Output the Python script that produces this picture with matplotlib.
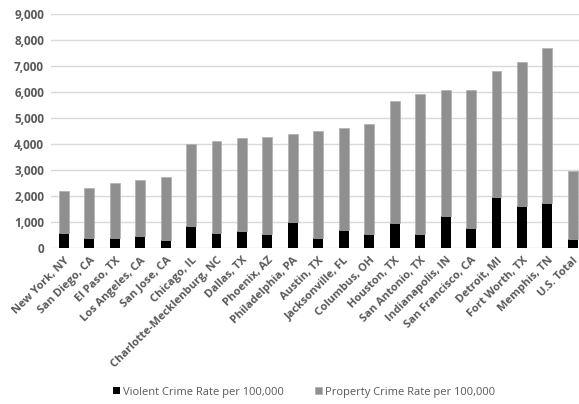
import matplotlib.pyplot as plt
from matplotlib.ticker import FuncFormatter

cities = ["New York, NY", "San Diego, CA", "El Paso, TX", "Los Angeles, CA", "San Jose, CA",
          "Chicago, IL", "Charlotte-Mecklenburg, NC", "Dallas, TX", "Phoenix, AZ",
          "Philadelphia, PA", "Austin, TX", "Jacksonville, FL", "Columbus, OH", "Houston, TX",
          "San Antonio, TX", "Indianapolis, IN", "San Francisco, CA", "Detroit, MI",
          "Fort Worth, TX", "Memphis, TN", "U.S. Total"]
violent = [580, 370, 370, 475, 320, 860, 580, 670, 550, 990, 400, 700, 540, 975,
           540, 1230, 780, 1960, 1600, 1740, 350]
total = [2180, 2310, 2500, 2600, 2730, 3990, 4120, 4220, 4280, 4380, 4510, 4600, 4770,
         5670, 5920, 6060, 6090, 6790, 7150, 7690, 2950]
property_ = [t - v for t, v in zip(total, violent)]

plt.rcParams['font.family'] = ['Open Sans', 'DejaVu Sans']
txt = '#595959'

fig = plt.figure(figsize=(5.79, 4.04), dpi=100)
ax = fig.add_axes([51 / 579, 156 / 404, 528 / 579, 234 / 404])

x = range(len(cities))
w = 0.39
ax.bar(x, violent, w, color='black', label='Violent Crime Rate per 100,000', zorder=3)
ax.bar(x, property_, w, bottom=violent, color='#8f8f8f', edgecolor='#b0b0b0', linewidth=0.5,
       label='Property Crime Rate per 100,000', zorder=3)

ax.set_ylim(0, 9000)
ax.set_xlim(-0.5, 20.24)
ax.set_yticks(range(0, 9001, 1000))
ax.yaxis.set_major_formatter(FuncFormatter(lambda v, p: f"{int(v):,}"))
ax.grid(axis='y', color='#d9d9d9', linewidth=1, zorder=0)
for s in ax.spines.values():
    s.set_visible(False)
ax.tick_params(axis='both', length=0, labelcolor=txt)
ax.tick_params(axis='y', pad=5, labelsize=8.5)
for lbl in ax.get_yticklabels():
    lbl.set_fontweight('bold')

ax.set_xticks(list(x))
ax.set_xticklabels(cities, rotation=45, ha='right', rotation_mode='anchor',
                   fontweight='bold', fontsize=8)
ax.tick_params(axis='x', pad=5)

leg = fig.legend(loc='center', bbox_to_anchor=(0.525, 12 / 404), ncol=2, frameon=False,
                 fontsize=8, handlelength=0.6, handleheight=0.6, columnspacing=2.8,
                 handletextpad=0.3)
for t in leg.get_texts():
    t.set_color(txt)

fig.savefig('out.png', dpi=100)
